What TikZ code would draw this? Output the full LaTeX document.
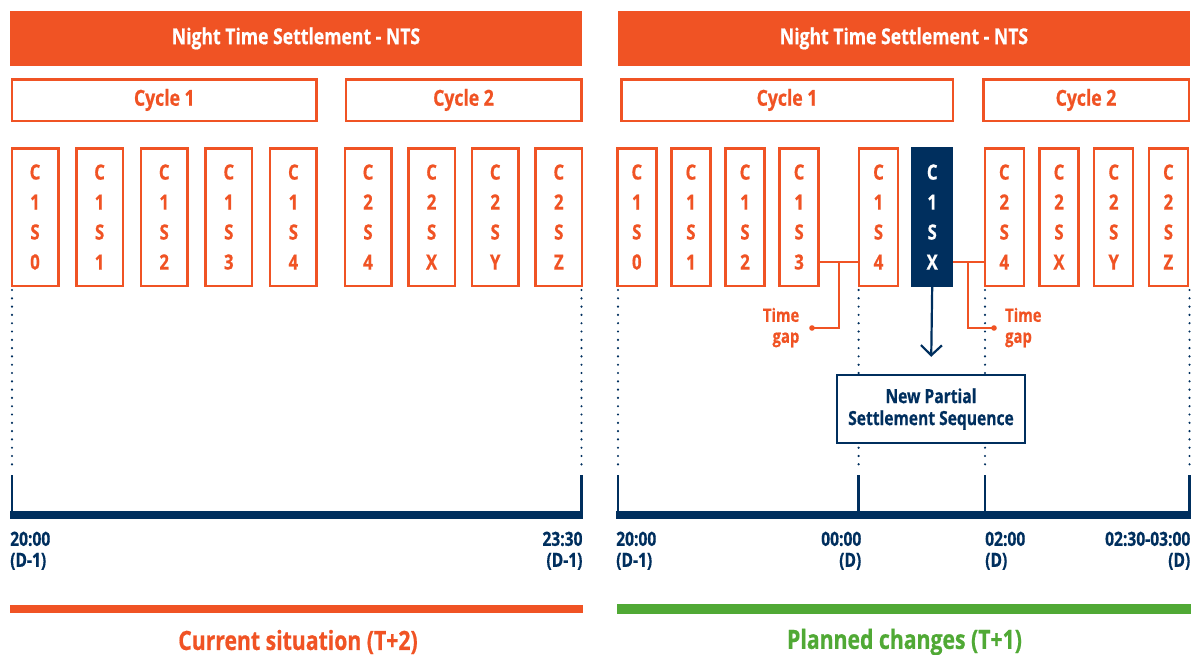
\documentclass[tikz,border=0pt]{standalone}
\usepackage{fontspec}
\setmainfont{Open Sans}[FakeStretch=0.8, BoldFeatures={FakeBold=0.6}]
\usetikzlibrary{arrows.meta}
\definecolor{ntsorange}{HTML}{F05324}
\definecolor{ntsnavy}{HTML}{002F5E}
\definecolor{ntsgreen}{HTML}{50A935}
\tikzset{
	hdr/.style={fill=ntsorange, text=white, minimum width=572, minimum height=55, inner sep=0pt, font=\bfseries\fontsize{22}{22}\selectfont},
	cyc/.style={draw=ntsorange, line width=2.5pt, text=ntsorange, minimum height=41.5, inner sep=0pt, font=\bfseries\fontsize{22}{22}\selectfont},
	seg/.style={draw=ntsorange, line width=2.5pt, text=ntsorange, minimum width=46.5, minimum height=137.5, inner sep=0pt, align=center, font=\bfseries\fontsize{21}{30}\selectfont},
	narrow/.style={minimum width=39},
	dots/.style={ntsnavy, line width=2.4pt, line cap=round, dash pattern=on 0pt off 8.3pt},
	axis/.style={ntsnavy, line width=8pt},
	tick/.style={ntsnavy, line width=2.5pt},
	when/.style={inner sep=0pt, text=ntsnavy, font=\bfseries\fontsize{19.5}{21}\selectfont},
	gapline/.style={ntsorange, line width=2pt},
	gaptext/.style={inner sep=0pt, text=ntsorange, font=\bfseries\fontsize{18.5}{21}\selectfont},
	caption/.style={inner sep=0pt, font=\bfseries\fontsize{26.5}{26.5}\selectfont}
}

\begin{document}
\begin{tikzpicture}[x=1pt,y=-1pt]
	\useasboundingbox (0,0) rectangle (1200,654);

	\node[hdr] (hl) at (296,38.5) {Night Time Settlement - NTS};
	\node[cyc, minimum width=304.5] (cl1) at (164.3,100) {Cycle 1};
	\node[cyc, minimum width=235.5] (cl2) at (463.5,100) {Cycle 2};
	\foreach \i in {0,...,4}
		\node[seg] (a\i) at ({35+64.6*\i},217) {C\\1\\S\\\i};
	\foreach \s [count=\i from 0] in {4,X,Y,Z}
		\node[seg] (b\s) at ({368+63.6*\i},217) {C\\2\\S\\\s};
	\foreach \x in {12,581.5}
		\draw[dots] (\x,290) -- (\x,470);
	\foreach \x in {12,581.5}
		\draw[tick] (\x,475) -- (\x,512);
	\draw[axis] (10,515) -- (582.7,515);
	\node[when, anchor=north west, align=left] (tl0) at (10,531.5) {20:00\\(D-1)};
	\node[when, anchor=north east, align=right] (tl1) at (582.7,531.5) {23:30\\(D-1)};
	\fill[ntsorange] (10,605) rectangle (582.7,613);
	\node[caption, text=ntsorange] (capl) at (298,642) {Current situation (T+2)};

	\node[hdr] (hr) at (904,38.5) {Night Time Settlement - NTS};
	\node[cyc, minimum width=331.5] (cr1) at (787,100) {Cycle 1};
	\node[cyc, minimum width=205.5] (cr2) at (1086,100) {Cycle 2};
	\foreach \s [count=\i from 0] in {0,1,2,3}
		\node[seg, narrow] (c\s) at ({636.8+54.1*\i},217) {C\\1\\S\\\s};
	\node[seg, narrow] (c4) at (878.5,217) {C\\1\\S\\4};
	\node[seg, narrow, fill=ntsnavy, draw=ntsnavy, text=white] (cX) at (932.2,217) {C\\1\\S\\X};
	\foreach \s [count=\i from 0] in {4,X,Y,Z}
		\node[seg, narrow] (d\s) at ({1004.3+54.7*\i},217) {C\\2\\S\\\s};
	\foreach \x in {618,858.6,985,1189.5}
		\draw[dots] (\x,290) -- (\x,470);
	\foreach \x in {618,858.6,985,1189.5}
		\draw[tick] (\x,475) -- (\x,512);
	\draw[axis] (616,515) -- (1190.5,515);

	\path ([yshift=-45pt]c3.east) -- coordinate[midway] (gapl) ([yshift=-45pt]c4.west);
	\path ([yshift=-45pt]cX.east) -- coordinate[midway] (gapr) ([yshift=-45pt]d4.west);
	\coordinate (dotl) at (812,328);
	\coordinate (dotr) at (994,328);
	\draw[gapline] ([yshift=-45pt]c3.east) -- ([yshift=-45pt]c4.west);
	\draw[gapline] ([yshift=-45pt]cX.east) -- ([yshift=-45pt]d4.west);
	\draw[gapline] (gapl) |- (dotl);
	\draw[gapline] (gapr) |- (dotr);
	\fill[ntsorange] (dotl) circle (2.8);
	\fill[ntsorange] (dotr) circle (2.8);
	\node[gaptext, anchor=east, align=right] (gtl) at (799.5,327.5) {Time\\gap};
	\node[gaptext, anchor=west, align=left] (gtr) at (1005,327.5) {Time\\gap};

	\node[draw=ntsnavy, fill=white, line width=2.5pt, text=ntsnavy, minimum width=188, minimum height=68, inner sep=0pt, align=center, font=\bfseries\fontsize{19.5}{22}\selectfont] (nps) at (931,409) {New Partial\\Settlement Sequence};
	\draw[ntsnavy, line width=2.2pt, -{Straight Barb[length=10pt,width=21pt,line width=2.2pt]}, shorten >=17pt] (cX.south) -- (nps.north);

	\node[when, anchor=north west, align=left] (tr0) at (616,531.5) {20:00\\(D-1)};
	\node[when, anchor=north east, align=right] (tr1) at (861.5,531.5) {00:00\\(D)};
	\node[when, anchor=north west, align=left] (tr2) at (985,531.5) {02:00\\(D)};
	\node[when, anchor=north east, align=right] (tr3) at (1190.5,531.5) {02:30-03:00\\(D)};
	\fill[ntsgreen] (617,604) rectangle (1191,614);
	\node[caption, text=ntsgreen] (capr) at (904.5,642) {Planned changes (T+1)};
\end{tikzpicture}
\end{document}
